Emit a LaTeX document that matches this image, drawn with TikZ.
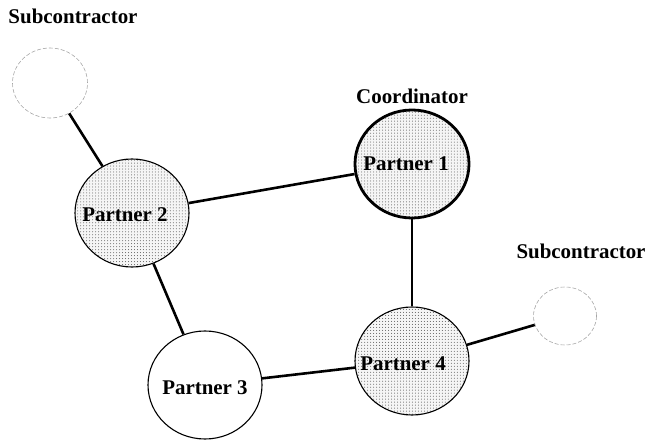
\documentclass[tikz,border=0pt]{standalone}
\usepackage{fontspec}
\setmainfont{Liberation Serif}
\usetikzlibrary{shapes.geometric,patterns}
\tikzset{
  partner/.style={ellipse, draw=black, line width=1.1bp, minimum width=114bp, minimum height=108bp, inner sep=0pt},
  dotted fill/.style={preaction={fill=gray!8}, pattern=dots, pattern color=black!65},
  coord/.style={partner, line width=2.8bp},
  sub/.style={ellipse, draw=gray!70, dashed, dash pattern=on 4bp off 2bp, line width=0.6bp, inner sep=0pt},
  link/.style={line width=2.6bp},
  lbl/.style={font=\fontsize{21}{23}\selectfont\bfseries, inner sep=0pt},
}
\begin{document}
\begin{tikzpicture}[x=1bp,y=-1bp]
\useasboundingbox (0,0) rectangle (649,441);
% nodes
\node[sub, minimum width=75bp, minimum height=70bp] (s1) at (50,83) {};
\node[sub, minimum width=63bp, minimum height=58bp] (s2) at (565,316) {};
\node[partner, dotted fill] (p2) at (132,213) {};
\node[coord, dotted fill] (p1) at (412,164) {};
\node[partner, dotted fill] (p4) at (412,361) {};
\node[partner, fill=white] (p3) at (205,385) {};
% links
\draw[link] (s1) -- (p2);
\draw[link] (p2) -- (p1);
\draw[link] (p2) -- (p3);
\draw[link] (p1) -- (p4);
\draw[link] (p3) -- (p4);
\draw[link] (p4) -- (s2);
% texts
\node[lbl] (t1) at (406,164) {Partner 1};
\node[lbl] (t2) at (125,215) {Partner 2};
\node[lbl] (t3) at (205,388) {Partner 3};
\node[lbl] (t4) at (403,364) {Partner 4};
\node[lbl] (c1) at (412,96) {Coordinator};
\node[lbl] (l1) at (73,16) {Subcontractor};
\node[lbl] (l2) at (581,251) {Subcontractor};
\end{tikzpicture}
\end{document}
